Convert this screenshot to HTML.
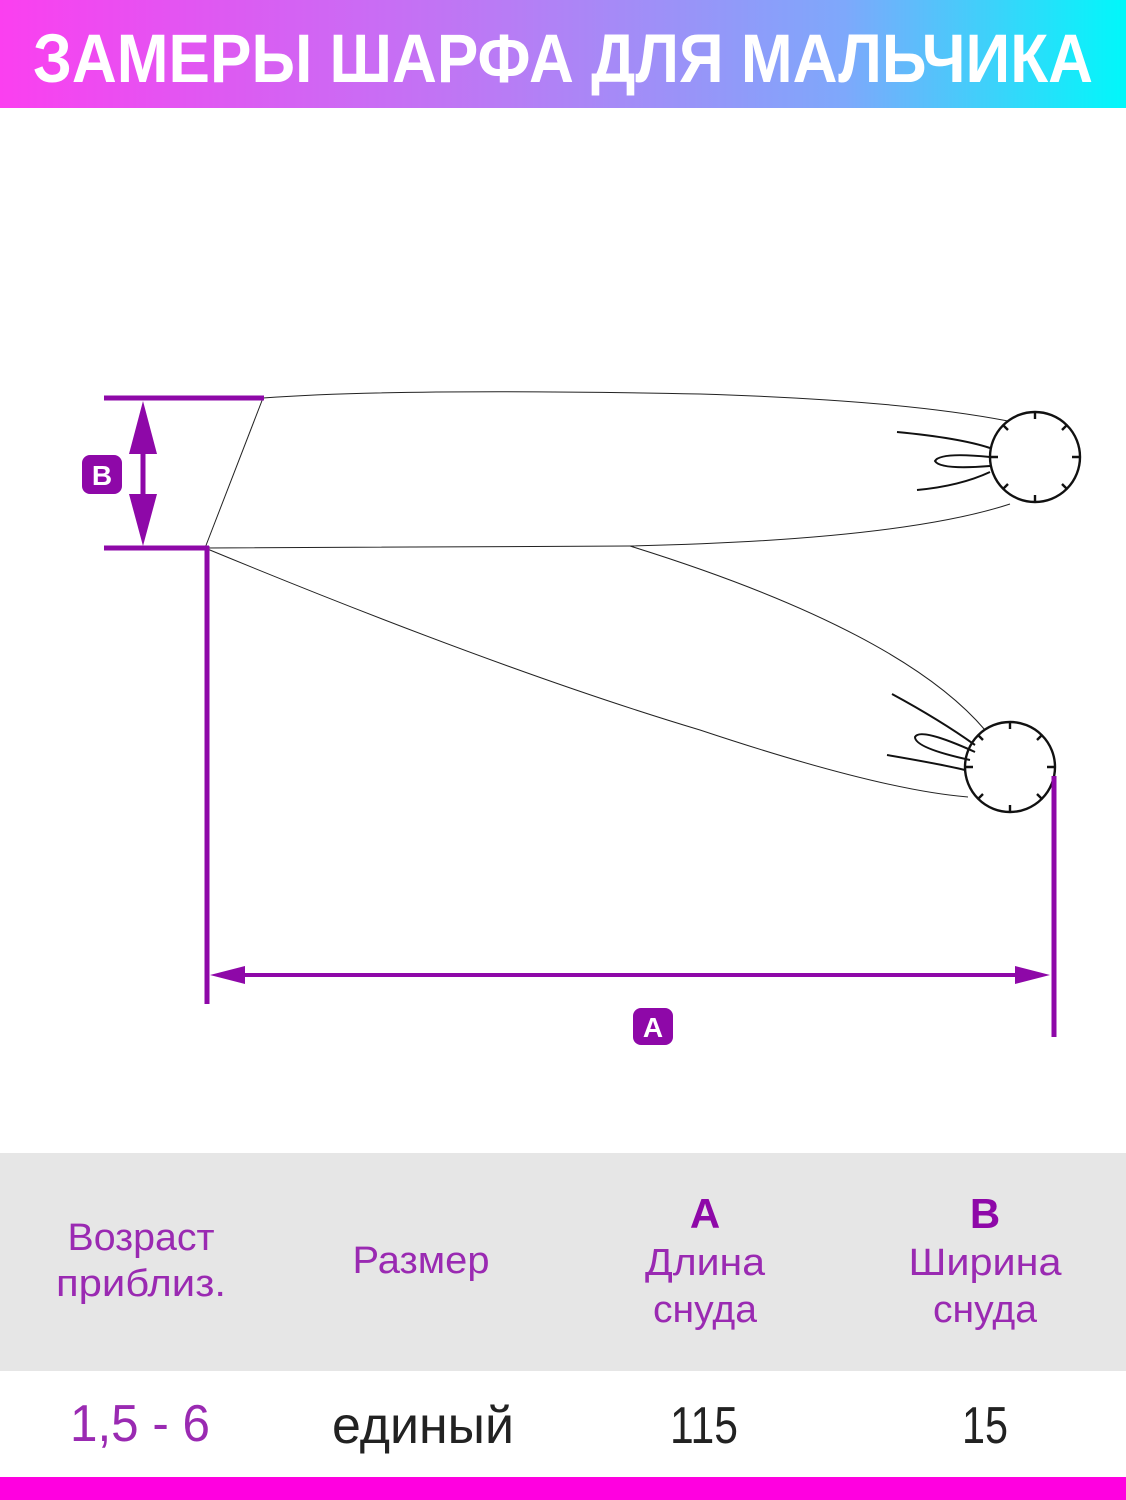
<!DOCTYPE html>
<html><head><meta charset="utf-8"><style>
html,body{margin:0;padding:0;background:#fff;}
svg{display:block;}
</style></head><body>
<svg width="1126" height="1500" viewBox="0 0 1126 1500" xmlns="http://www.w3.org/2000/svg" font-family="Liberation Sans, sans-serif">
<defs>
<linearGradient id="g" x1="0" y1="0" x2="1" y2="0">
<stop offset="0" stop-color="#fb3ff0"/>
<stop offset="0.45" stop-color="#b87cf5"/>
<stop offset="0.75" stop-color="#7ea8fb"/>
<stop offset="1" stop-color="#00f8fa"/>
</linearGradient>
<g id="pom" fill="none" stroke="#111" stroke-width="2.4">
<circle cx="0" cy="0" r="45"/>
<path d="M0,-45 L0,-38 M32,-32 L27,-27 M45,0 L37,0 M32,32 L27,27 M0,45 L0,38 M-32,32 L-27,27 M-45,0 L-37,0 M-32,-32 L-27,-27"/>
</g>
</defs>
<rect x="0" y="0" width="1126" height="108" fill="url(#g)"/>
<text x="33" y="82" font-size="69" font-weight="bold" fill="#fff" textLength="1060" lengthAdjust="spacingAndGlyphs">ЗАМЕРЫ ШАРФА ДЛЯ МАЛЬЧИКА</text>

<g fill="none" stroke="#222" stroke-width="1">
<path d="M263,398 L205,548"/>
<path d="M263,398 Q400,388 700,394 Q900,400 1008,421"/>
<path d="M205,548 L630,546 Q900,540 1010,504"/>
<path d="M630,546 Q900,630 985,730"/>
<path d="M205,548 Q500,670 700,730 Q880,790 968,797"/>
</g>
<g fill="none" stroke="#111" stroke-width="2">
<path d="M897,432 Q960,438 990,448"/>
<path d="M917,490 Q960,486 990,472"/>
<path d="M990,457 Q940,452 935,461 Q940,470 990,466"/>
<path d="M892,694 Q940,720 975,745"/>
<path d="M887,755 Q940,764 965,770"/>
<path d="M975,752 Q920,727 915,737 Q915,748 970,760"/>
</g>
<use href="#pom" x="1035" y="457"/>
<use href="#pom" x="1010" y="767"/>

<g stroke="#8e08a8" fill="#8e08a8">
<line x1="104" y1="398" x2="264" y2="398" stroke-width="5"/>
<line x1="104" y1="548" x2="209" y2="548" stroke-width="5"/>
<line x1="207" y1="546" x2="207" y2="1004" stroke-width="5"/>
<line x1="1054" y1="776" x2="1054" y2="1037" stroke-width="5"/>
<line x1="143" y1="440" x2="143" y2="510" stroke-width="5"/>
<polygon points="143,401 129,454 157,454" stroke="none"/>
<polygon points="143,546 129,494 157,494" stroke="none"/>
<line x1="240" y1="975" x2="1020" y2="975" stroke-width="4"/>
<polygon points="210,975 245,966 245,984" stroke="none"/>
<polygon points="1050,975 1015,966 1015,984" stroke="none"/>
<rect x="82" y="455" width="40" height="39" rx="8" stroke="none"/>
<rect x="633" y="1008" width="40" height="37" rx="8" stroke="none"/>
</g>
<text x="102" y="485" font-size="28" font-weight="bold" fill="#fff" text-anchor="middle">B</text>
<text x="653" y="1037" font-size="28" font-weight="bold" fill="#fff" text-anchor="middle">A</text>

<rect x="0" y="1153" width="1126" height="218" fill="#e6e6e6"/>
<g fill="#9a2ab2" font-size="38" text-anchor="middle">
<text x="141" y="1250" textLength="147" lengthAdjust="spacingAndGlyphs">Возраст</text>
<text x="141" y="1296" textLength="170" lengthAdjust="spacingAndGlyphs">приблиз.</text>
<text x="421" y="1273" textLength="137" lengthAdjust="spacingAndGlyphs">Размер</text>
<text x="705" y="1275" textLength="120" lengthAdjust="spacingAndGlyphs">Длина</text>
<text x="705" y="1322" textLength="104" lengthAdjust="spacingAndGlyphs">снуда</text>
<text x="985" y="1275" textLength="153" lengthAdjust="spacingAndGlyphs">Ширина</text>
<text x="985" y="1322" textLength="104" lengthAdjust="spacingAndGlyphs">снуда</text>
<text x="140" y="1441" font-size="52" textLength="140" lengthAdjust="spacingAndGlyphs">1,5 - 6</text>
</g>
<g fill="#8e08a8" font-size="42" font-weight="bold" text-anchor="middle">
<text x="705" y="1228">A</text>
<text x="985" y="1228">B</text>
</g>
<g fill="#222" font-size="52" text-anchor="middle">
<text x="423" y="1443" textLength="182" lengthAdjust="spacingAndGlyphs">единый</text>
<text x="704" y="1443" textLength="68" lengthAdjust="spacingAndGlyphs">115</text>
<text x="985" y="1443" textLength="46" lengthAdjust="spacingAndGlyphs">15</text>
</g>
<rect x="0" y="1477" width="1126" height="23" fill="#ff00e0"/>
</svg>
</body></html>
